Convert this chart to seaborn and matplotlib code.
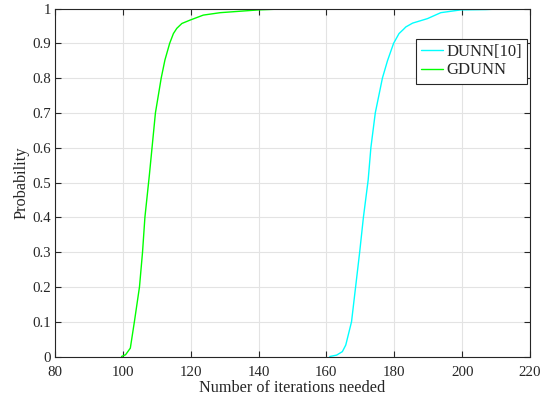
import matplotlib
matplotlib.use("Agg")
import matplotlib.pyplot as plt
import seaborn as sns
import pandas as pd

dunn_x = [161.0, 163.0, 164.7, 165.7, 167.4, 168.6, 169.8, 170.9, 172.3, 173.1,
          174.4, 176.5, 178.0, 179.8, 181.4, 182.7, 183.4, 185.4, 189.8, 193.7,
          199.6, 207.0, 215.0]
dunn_y = [0.0, 0.004, 0.014, 0.033, 0.1, 0.2, 0.3, 0.4, 0.507, 0.6,
          0.7, 0.8, 0.85, 0.9, 0.928, 0.94, 0.947, 0.958, 0.971, 0.988,
          0.996, 0.997, 1.0]

gdunn_x = [99.6, 100.8, 102.2, 103.4, 104.9, 105.8, 106.5, 107.8, 108.6, 109.6,
           111.3, 112.4, 113.8, 114.9, 115.9, 117.4, 119.9, 123.7, 128.7, 140.0,
           148.0, 152.0]
gdunn_y = [0.0, 0.005, 0.024, 0.1, 0.2, 0.3, 0.4, 0.52, 0.6, 0.7,
           0.8, 0.852, 0.9, 0.928, 0.943, 0.957, 0.967, 0.981, 0.988, 0.996,
           0.999, 1.0]

series_names = ["DUNN[10]", "GDUNN"]
series_colors = ["#00ffff", "#00ff00"]

x_ticks = [80, 100, 120, 140, 160, 180, 200, 220]
y_ticks = [0, 0.1, 0.2, 0.3, 0.4, 0.5, 0.6, 0.7, 0.8, 0.9, 1]
y_tick_labels = ["0", "0.1", "0.2", "0.3", "0.4", "0.5", "0.6", "0.7", "0.8", "0.9", "1"]

df = pd.concat([
    pd.DataFrame({"x": dunn_x, "y": dunn_y, "series": series_names[0]}),
    pd.DataFrame({"x": gdunn_x, "y": gdunn_y, "series": series_names[1]}),
], ignore_index=True)

sns.set_style("white")
plt.rcParams["font.family"] = ["Liberation Serif", "DejaVu Serif"]

fig = plt.figure(figsize=(5.51, 4.0), dpi=100)
ax = fig.add_axes([55 / 551, 1 - 356.5 / 400, (530 - 55) / 551, (356.5 - 8.5) / 400])

sns.lineplot(data=df, x="x", y="y", hue="series", palette=series_colors,
             hue_order=series_names, estimator=None, sort=False, lw=1.0, ax=ax,
             legend=True)

ax.set_xlim(80, 220)
ax.set_ylim(0, 1)
ax.set_xticks(x_ticks)
ax.set_yticks(y_ticks)
ax.set_yticklabels(y_tick_labels)
ax.grid(True, color="#e3e3e3", linewidth=0.8)
ax.set_axisbelow(True)

spine_col = "#262626"
for s in ax.spines.values():
    s.set_color(spine_col)
    s.set_linewidth(0.8)
    s.set_visible(True)
ax.tick_params(direction="in", length=4, width=0.8, color=spine_col,
               top=True, right=True, bottom=True, left=True,
               labelsize=10.7, labelcolor="#262626", pad=3)
ax.tick_params(axis="x", pad=6.5)

ax.set_xlabel("Number of iterations needed", fontsize=11.7, color="#262626", labelpad=1)
ax.set_ylabel("Probability", fontsize=11.7, color="#262626", labelpad=2)

handles, labels = ax.get_legend_handles_labels()
leg = ax.legend(handles, labels, loc="upper right",
                bbox_to_anchor=(526.7 / 551, 1 - 39 / 400), bbox_transform=fig.transFigure,
                borderaxespad=0, fancybox=False, frameon=True, fontsize=12,
                handlelength=1.3, handletextpad=0.2, borderpad=0.3, labelspacing=0.15)
leg.get_frame().set_edgecolor(spine_col)
leg.get_frame().set_linewidth(0.8)
leg.get_frame().set_alpha(1)

fig.savefig("out.png", dpi=100)
